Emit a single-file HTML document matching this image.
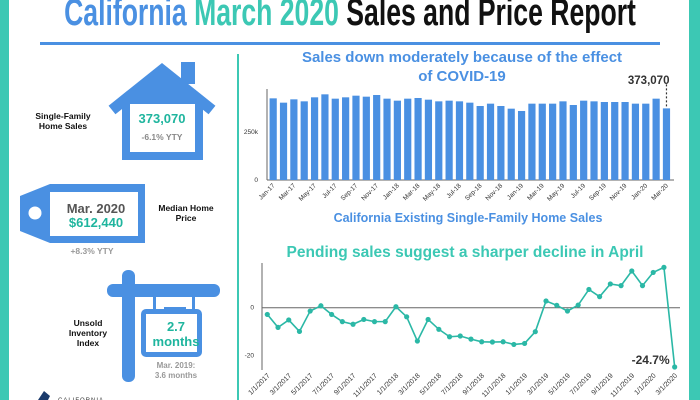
<!DOCTYPE html>
<html><head><meta charset="utf-8">
<style>
html,body{margin:0;padding:0;background:#fff}
body{width:700px;height:400px;overflow:hidden;position:relative;font-family:"Liberation Sans",sans-serif}
svg{position:absolute;left:0;top:0}
</style></head>
<body>
<svg width="700" height="400" viewBox="0 0 700 400">
  <rect x="0" y="0" width="9" height="400" fill="#3cc8b4"/>
  <rect x="689" y="0" width="11" height="400" fill="#3cc8b4"/>
  <g transform="translate(350,25) scale(0.70,1)">
    <text x="0" y="0" text-anchor="middle" font-size="38" font-weight="bold" font-family="Liberation Sans,sans-serif"><tspan fill="#4a90e2">California </tspan><tspan fill="#3cc8b4">March 2020 </tspan><tspan fill="#111">Sales and Price Report</tspan></text>
  </g>
  <rect x="40" y="42" width="620" height="3" fill="#4a90e2"/>
  <rect x="237" y="54" width="2" height="346" fill="#3cc8b4"/>

  <!-- House -->
  <g>
    <rect x="181" y="62" width="14" height="22" fill="#4a90e2"/>
    <polyline points="112,110 162,70 212,110" fill="none" stroke="#4a90e2" stroke-width="11"/>
    <path d="M122,101 L162,70 L203,101 L203,160 L122,160 Z" fill="#4a90e2"/>
    <rect x="130" y="104" width="65" height="48" fill="#fff"/>
  </g>
  <text x="162" y="123" text-anchor="middle" font-size="13" font-weight="bold" fill="#1fb59e">373,070</text>
  <text x="162" y="140" text-anchor="middle" font-size="8.5" font-weight="bold" fill="#888">-6.1% YTY</text>
  <text x="63" y="119" text-anchor="middle" font-size="8.5" font-weight="bold" fill="#111"><tspan x="63">Single-Family</tspan><tspan x="63" dy="10">Home Sales</tspan></text>

  <!-- Tag -->
  <g>
    <path d="M20,196 L50,184 L145,184 L145,243 L50,243 L20,231 Z" fill="#4a90e2"/>
    <rect x="50" y="192" width="88" height="44" fill="#fff"/>
    <circle cx="35" cy="213" r="6.5" fill="#fff"/>
  </g>
  <text x="96" y="213" text-anchor="middle" font-size="13" font-weight="bold" fill="#555">Mar. 2020</text>
  <text x="96" y="227" text-anchor="middle" font-size="13" font-weight="bold" fill="#1fb59e">$612,440</text>
  <text x="92" y="254" text-anchor="middle" font-size="8.5" font-weight="bold" fill="#999">+8.3% YTY</text>
  <text x="186" y="211" text-anchor="middle" font-size="8.5" font-weight="bold" fill="#111"><tspan x="186">Median Home</tspan><tspan x="186" dy="10">Price</tspan></text>

  <!-- Sign -->
  <g>
    <rect x="122" y="270" width="13" height="112" rx="6" fill="#4a90e2"/>
    <rect x="107" y="284" width="113" height="13" rx="6" fill="#4a90e2"/>
    <rect x="153" y="297" width="3" height="14" fill="#4a90e2"/>
    <rect x="192" y="297" width="3" height="14" fill="#4a90e2"/>
    <rect x="164" y="307" width="22" height="8" fill="#4a90e2"/>
    <rect x="141" y="309" width="61" height="48" rx="5" fill="#4a90e2"/>
    <rect x="146" y="314" width="51" height="38" fill="#fff"/>
  </g>
  <text x="176" y="331" text-anchor="middle" font-size="13" font-weight="bold" fill="#1fb59e">2.7</text>
  <text x="176" y="346" text-anchor="middle" font-size="13" font-weight="bold" fill="#1fb59e">months</text>
  <text x="176" y="368" text-anchor="middle" font-size="8" font-weight="bold" fill="#999"><tspan x="176">Mar. 2019:</tspan><tspan x="176" dy="10">3.6 months</tspan></text>
  <text x="88" y="326" text-anchor="middle" font-size="8.5" font-weight="bold" fill="#111"><tspan x="88">Unsold</tspan><tspan x="88" dy="10">Inventory</tspan><tspan x="88" dy="10">Index</tspan></text>
  <path d="M38,400 L44,391 L50,396 L48,400 Z" fill="#1a3a6b"/>
  <text x="58" y="402" font-size="6" fill="#333" letter-spacing="1">CALIFORNIA</text>

  <!-- Top chart -->
  <text x="462" y="62" text-anchor="middle" font-size="15" font-weight="bold" fill="#4a90e2"><tspan x="462">Sales down moderately because of the effect</tspan><tspan x="462" dy="19">of COVID-19</tspan></text>
  <g id="bars"></g>
  <text x="468" y="222" text-anchor="middle" font-size="12.5" font-weight="bold" fill="#4a90e2">California Existing Single-Family Home Sales</text>

  <!-- Bottom chart -->
  <text x="465" y="257" text-anchor="middle" font-size="15.5" font-weight="bold" fill="#3cc8b4">Pending sales suggest a sharper decline in April</text>
  <g id="line"></g>
</svg>
<script>
const barMonths=["Jan-17","Feb-17","Mar-17","Apr-17","May-17","Jun-17","Jul-17","Aug-17","Sep-17","Oct-17","Nov-17","Dec-17","Jan-18","Feb-18","Mar-18","Apr-18","May-18","Jun-18","Jul-18","Aug-18","Sep-18","Oct-18","Nov-18","Dec-18","Jan-19","Feb-19","Mar-19","Apr-19","May-19","Jun-19","Jul-19","Aug-19","Sep-19","Oct-19","Nov-19","Dec-19","Jan-20","Feb-20","Mar-20"];
const barValues=[425300,402800,420100,409700,430600,446200,423600,430600,439200,434000,442700,423600,413200,423600,427100,418400,409700,413200,409700,402800,385400,397600,385400,371500,359400,397600,397600,397600,409700,390600,413200,409700,406200,406200,406200,397600,397600,423600,373070];
const barTicks=[0,250000];
const barTickLabels=["0","250k"];
const lineDates=["1/1/2017","2/1/2017","3/1/2017","4/1/2017","5/1/2017","6/1/2017","7/1/2017","8/1/2017","9/1/2017","10/1/2017","11/1/2017","12/1/2017","1/1/2018","2/1/2018","3/1/2018","4/1/2018","5/1/2018","6/1/2018","7/1/2018","8/1/2018","9/1/2018","10/1/2018","11/1/2018","12/1/2018","1/1/2019","2/1/2019","3/1/2019","4/1/2019","5/1/2019","6/1/2019","7/1/2019","8/1/2019","9/1/2019","10/1/2019","11/1/2019","12/1/2019","1/1/2020","2/1/2020","3/1/2020"];
const lineValues=[-2.8,-8.2,-5.1,-9.9,-1.4,0.8,-2.8,-5.8,-6.9,-4.9,-5.8,-5.8,0.4,-3.8,-13.9,-4.9,-9.0,-12.1,-11.8,-13.1,-14.2,-14.3,-14.2,-15.3,-14.9,-10.0,2.8,1.0,-1.4,1.1,7.6,4.6,9.9,9.2,15.3,9.2,14.7,16.8,-24.7];
const lineTicks=[0,-20];
const lineTickLabels=["0","-20"];

const NS="http://www.w3.org/2000/svg";
function mk(tag,attrs,parent,txt){const e=document.createElementNS(NS,tag);for(const k in attrs)e.setAttribute(k,attrs[k]);if(txt!==undefined)e.textContent=txt;parent.appendChild(e);return e;}

// Bar chart
const bg=document.getElementById('bars');
const bx0=268,bStep=10.35,bW=7.2,bY0=180,bScale=48/250000;
const bx=i=>bx0+i*bStep+bStep/2;
const by=v=>bY0-v*bScale;
const yAxis=mk('line',{x1:267,y1:89,x2:267,y2:bY0,stroke:'#666','stroke-width':1},bg);


const xAxis=mk('line',{x1:267,y1:bY0,x2:674,y2:bY0,stroke:'#666','stroke-width':1},bg);


barTicks.forEach((t,i)=>{
  const tl=mk('text',{x:258,y:by(t)+2,'text-anchor':'end','font-size':6.5,fill:'#333'},bg,barTickLabels[i]);
  
  
});
barValues.forEach((v,i)=>{
  const r=mk('rect',{x:bx(i)-bW/2,y:by(v),width:bW,height:bY0-by(v),fill:'#4a90e2'},bg);
  
  
  if(i%2===0){
    const cx=bx(i)+2,cy=186;
    const t=mk('text',{x:cx,y:cy,'text-anchor':'end','font-size':6.5,fill:'#333',transform:`rotate(-45 ${cx} ${cy})`},bg,barMonths[i]);
    
    
  }
});
const li=barValues.length-1;
const dl=mk('line',{x1:bx(li),y1:by(barValues[li])-2,x2:bx(li),y2:84,stroke:'#333','stroke-width':1.2,'stroke-dasharray':'2,2'},bg);


const lab=mk('text',{x:bx(li)+3,y:84,'text-anchor':'end','font-size':11.5,'font-weight':'bold',fill:'#333'},bg,barValues[li].toLocaleString('en-US'));



// Line chart
const lg=document.getElementById('line');
const lx0=267.3,lStep=10.72,lY0=307.7,lScale=2.4;
const lx=i=>lx0+i*lStep;
const ly=v=>lY0-v*lScale;
const la=mk('line',{x1:262,y1:263,x2:262,y2:370,stroke:'#666','stroke-width':1},lg);


const zl=mk('line',{x1:262,y1:ly(0),x2:680,y2:ly(0),stroke:'#666','stroke-width':1},lg);


lineTicks.forEach((t,i)=>{
  const tl=mk('text',{x:254,y:ly(t)+2,'text-anchor':'end','font-size':6.5,fill:'#333'},lg,lineTickLabels[i]);
  
  
});
const pl=mk('polyline',{points:lineValues.map((v,i)=>lx(i)+','+ly(v)).join(' '),fill:'none',stroke:'#2bb8a6','stroke-width':1.6},lg);


lineValues.forEach((v,i)=>{
  const c=mk('circle',{cx:lx(i),cy:ly(v),r:2.6,fill:'#2bb8a6'},lg);
  
  
  if(i%2===0){
    const cx=lx(i)+3,cy=376;
    const t=mk('text',{x:cx,y:cy,'text-anchor':'end','font-size':7,fill:'#333',transform:`rotate(-45 ${cx} ${cy})`},lg,lineDates[i]);
    
    
  }
});
const ll=lineValues.length-1;
const ltxt=mk('text',{x:lx(ll)-5,y:ly(lineValues[ll])-3,'text-anchor':'end','font-size':12,'font-weight':'bold',fill:'#333'},lg,lineValues[ll].toFixed(1)+'%');


</script>
</body></html>
